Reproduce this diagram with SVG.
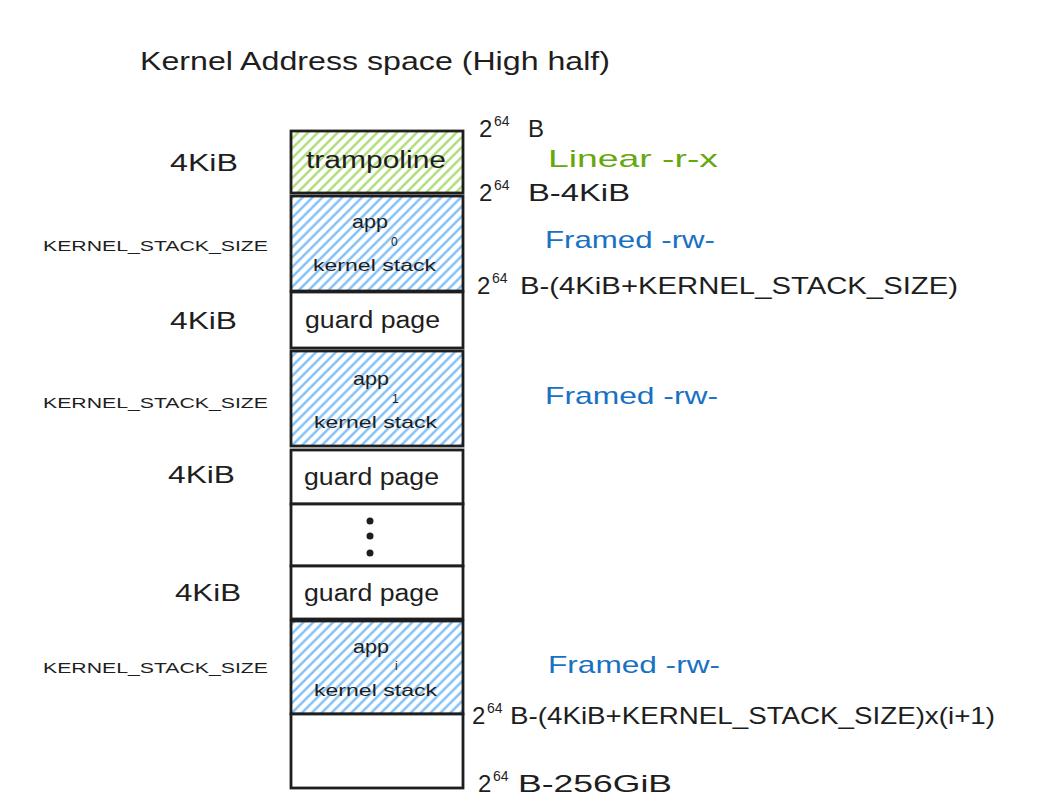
<svg xmlns="http://www.w3.org/2000/svg" width="1054" height="811" viewBox="0 0 1054 811">
<defs>
<pattern id="hg" width="7" height="7" patternUnits="userSpaceOnUse" patternTransform="rotate(45)">
<line x1="3.5" y1="0" x2="3.5" y2="7" stroke="#a5d96a" stroke-width="2.2"/>
</pattern>
<pattern id="hb" width="7" height="7" patternUnits="userSpaceOnUse" patternTransform="rotate(45)">
<line x1="3.5" y1="0" x2="3.5" y2="7" stroke="#74b9f5" stroke-width="2.2"/>
</pattern>
<style>
text{font-family:"Liberation Sans",Arial,sans-serif;fill:#1e1e1e}
.box{stroke:#1e1e1e;stroke-width:2.8;fill:#fff}
.g{fill:url(#hg)}
.b{fill:url(#hb)}
.lbl{font-size:24px}
.kss{font-size:14px}
.in{font-size:23px}
.app{font-size:19px}
.sm{font-size:17px}
.sub{font-size:12px}
.addr{font-size:24px}
.sup{font-size:14px}
.green{fill:#66a80f}
.blue{fill:#1971c2}
</style>
</defs>
<rect width="1054" height="811" fill="#fff"/>
<text x="140" y="70" font-size="26" textLength="470" lengthAdjust="spacingAndGlyphs">Kernel Address space (High half)</text>

<g id="trampoline">
<rect class="box g" x="291" y="131" width="172" height="62"/>
<text class="in" x="306" y="168" textLength="140" lengthAdjust="spacingAndGlyphs">trampoline</text>
</g>
<g id="app0">
<rect class="box b" x="291" y="196" width="172" height="95"/>
<text class="app" x="352" y="228" textLength="36" lengthAdjust="spacingAndGlyphs">app</text>
<text class="sub" x="391" y="246">0</text>
<text class="sm" x="313" y="271" textLength="123" lengthAdjust="spacingAndGlyphs">kernel stack</text>
</g>
<g id="guard1">
<rect class="box" x="291" y="292" width="172" height="56"/>
<text class="in" x="305" y="328" textLength="135" lengthAdjust="spacingAndGlyphs">guard page</text>
</g>
<g id="app1">
<rect class="box b" x="291" y="351" width="172" height="95"/>
<text class="app" x="353" y="385" textLength="36" lengthAdjust="spacingAndGlyphs">app</text>
<text class="sub" x="392" y="403">1</text>
<text class="sm" x="314" y="428" textLength="123" lengthAdjust="spacingAndGlyphs">kernel stack</text>
</g>
<g id="guard2">
<rect class="box" x="291" y="450" width="172" height="54"/>
<text class="in" x="304" y="485" textLength="135" lengthAdjust="spacingAndGlyphs">guard page</text>
</g>
<g id="dots">
<rect class="box" x="291" y="504" width="172" height="62"/>
<circle cx="370" cy="521" r="3.5" fill="#1e1e1e"/>
<circle cx="370" cy="536" r="3.5" fill="#1e1e1e"/>
<circle cx="370" cy="553" r="3.5" fill="#1e1e1e"/>
</g>
<g id="guard3">
<rect class="box" x="291" y="566" width="172" height="53"/>
<text class="in" x="304" y="601" textLength="135" lengthAdjust="spacingAndGlyphs">guard page</text>
</g>
<g id="appi">
<rect class="box b" x="291" y="621" width="172" height="93"/>
<text class="app" x="353" y="653" textLength="36" lengthAdjust="spacingAndGlyphs">app</text>
<text class="sub" x="395" y="670">i</text>
<text class="sm" x="314" y="696" textLength="123" lengthAdjust="spacingAndGlyphs">kernel stack</text>
</g>
<g id="empty">
<rect class="box" x="291" y="714" width="172" height="74"/>
</g>

<g id="left-labels">
<text class="lbl" x="170" y="171" textLength="68" lengthAdjust="spacingAndGlyphs">4KiB</text>
<text class="kss" x="43" y="251" textLength="225" lengthAdjust="spacingAndGlyphs">KERNEL_STACK_SIZE</text>
<text class="lbl" x="170" y="329" textLength="67" lengthAdjust="spacingAndGlyphs">4KiB</text>
<text class="kss" x="43" y="408" textLength="225" lengthAdjust="spacingAndGlyphs">KERNEL_STACK_SIZE</text>
<text class="lbl" x="168" y="483" textLength="67" lengthAdjust="spacingAndGlyphs">4KiB</text>
<text class="lbl" x="175" y="601" textLength="66" lengthAdjust="spacingAndGlyphs">4KiB</text>
<text class="kss" x="43" y="673" textLength="225" lengthAdjust="spacingAndGlyphs">KERNEL_STACK_SIZE</text>
</g>

<g id="right-labels">
<text class="addr" x="479" y="137" font-size="26">2</text><text class="sup" x="494" y="126">64</text><text class="addr" x="528" y="137">B</text>
<text class="addr green" x="548" y="167" textLength="170" lengthAdjust="spacingAndGlyphs">Linear -r-x</text>
<text class="addr" x="479" y="201" font-size="26">2</text><text class="sup" x="494" y="190">64</text><text class="addr" x="528" y="201" textLength="102" lengthAdjust="spacingAndGlyphs">B-4KiB</text>
<text class="addr blue" x="545" y="248" textLength="170" lengthAdjust="spacingAndGlyphs">Framed -rw-</text>
<text class="addr" x="477" y="294" font-size="26">2</text><text class="sup" x="492" y="283">64</text><text class="addr" x="520" y="294" textLength="438" lengthAdjust="spacingAndGlyphs">B-(4KiB+KERNEL_STACK_SIZE)</text>
<text class="addr blue" x="545" y="404" textLength="173" lengthAdjust="spacingAndGlyphs">Framed -rw-</text>
<text class="addr blue" x="548" y="673" textLength="172" lengthAdjust="spacingAndGlyphs">Framed -rw-</text>
<text class="addr" x="472" y="724" font-size="26">2</text><text class="sup" x="487" y="713">64</text><text class="addr" x="510" y="724" textLength="485" lengthAdjust="spacingAndGlyphs">B-(4KiB+KERNEL_STACK_SIZE)x(i+1)</text>
<text class="addr" x="478" y="792" font-size="26">2</text><text class="sup" x="493" y="781">64</text><text class="addr" x="518" y="792" textLength="154" lengthAdjust="spacingAndGlyphs">B-256GiB</text>
</g>
</svg>
